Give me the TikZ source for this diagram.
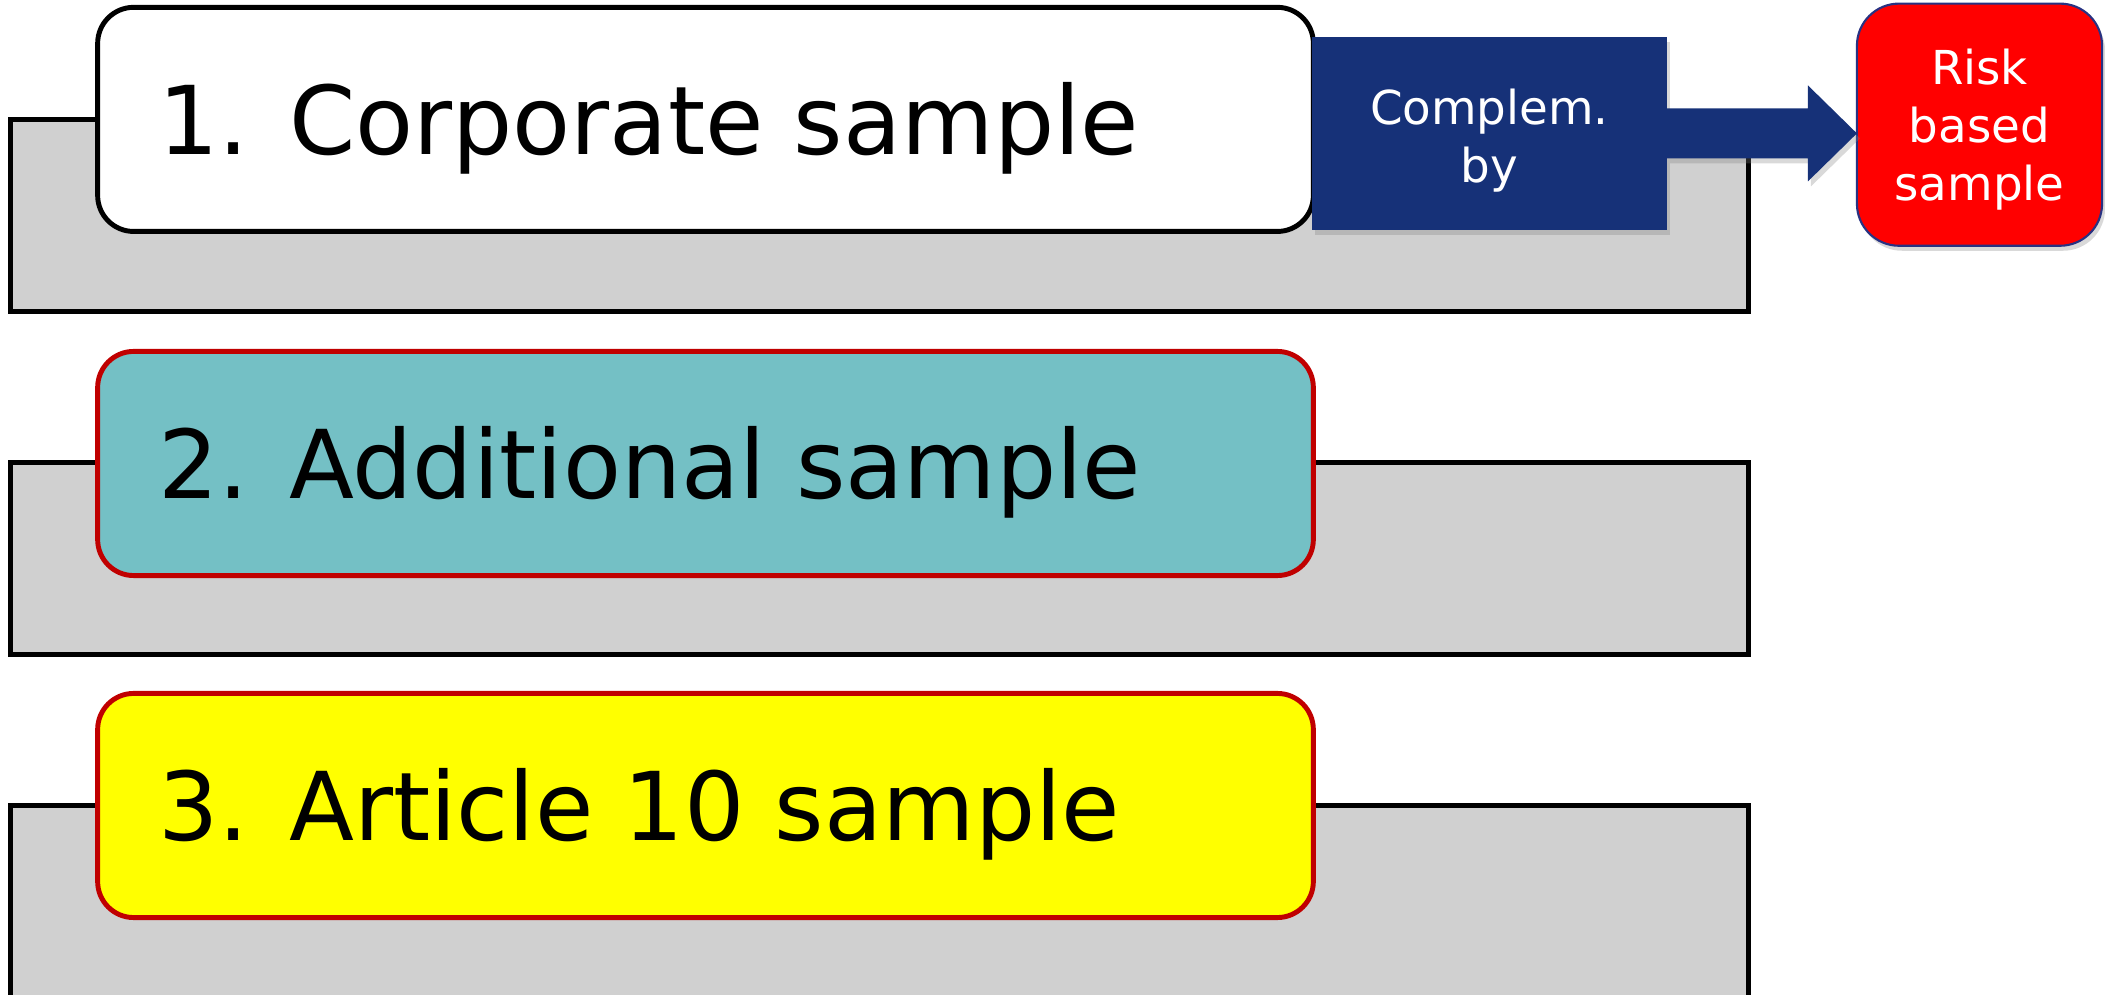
\documentclass[tikz,border=0pt]{standalone}
\usepackage{fontspec}
\setmainfont{DejaVu Sans}
\usetikzlibrary{calc,shadows}
\definecolor{graybar}{RGB}{208,208,208}
\definecolor{tealbox}{RGB}{116,192,197}
\definecolor{navy}{RGB}{22,49,120}
\definecolor{darkred}{RGB}{192,0,0}
\definecolor{redborder}{RGB}{40,50,130}
\definecolor{yellowbox}{RGB}{255,255,0}
\definecolor{redbox}{RGB}{255,0,0}
\begin{document}
\begin{tikzpicture}[x=0.01cm,y=-0.01cm,
  bar/.style={draw=black, fill=graybar, line width=1.4pt, minimum width=17.37cm, minimum height=1.92cm, inner sep=0pt, outer sep=0pt},
  sbox/.style={rounded corners=0.36cm, line width=1.4pt, minimum width=12.15cm, minimum height=2.24cm, inner sep=0pt, outer sep=0pt},
  big/.style={font=\fontsize{27}{32}\selectfont, inner sep=0pt, anchor=base west},
  small/.style={font=\fontsize{13.3}{16.4}\selectfont, text=white, align=center, inner sep=0pt},
  shade/.style={drop shadow={shadow xshift=0.03cm, shadow yshift=-0.05cm, opacity=0.3}},
]
\useasboundingbox (0,0) rectangle (2105,995);
% row 1
\node[bar] (g1) at (879.4,215.5) {};
\node[sbox, draw=black, fill=white] (b1) at (705.5,119.4) {};
\node[big] (t1) at ($(b1.north west)+(60,147)$) {1. Corporate sample};
% row 2
\node[bar] (g2) at (879.4,558.5) {};
\node[sbox, draw=darkred, fill=tealbox] (b2) at (705.5,463.5) {};
\node[big] (t2) at ($(b2.north west)+(60,147)$) {2. Additional sample};
% row 3
\node[bar] (g3) at (879.4,901.5) {};
\node[sbox, draw=darkred, fill=yellowbox] (b3) at (705.5,805.5) {};
\node[big] (t3) at ($(b3.north west)+(60,147)$) {3. Article 10 sample};
% complement box and risk box
\node[fill=navy, minimum width=3.55cm, minimum height=1.93cm, outer sep=0pt, shade] (blue) at (1489.5,133.4) {};
\node[small] (bluet) at ($(blue.center)+(0,7)$) {Complem.\\by};
\node[fill=redbox, draw=redborder, line width=0.6pt, rounded corners=0.42cm, minimum width=2.45cm, minimum height=2.42cm, outer sep=0pt, shade] (risk) at (1979.5,124.7) {};
\node[small] (riskt) at ($(risk.center)+(0,5)$) {Risk\\based\\sample};
\coordinate (tip) at (risk.west |- blue.east);
\fill[navy, shade] ($(blue.east)+(0,-25)$) -- ($(tip)+(-49,-25)$) -- ($(tip)+(-49,-48)$) -- (tip) -- ($(tip)+(-49,48)$) -- ($(tip)+(-49,25)$) -- ($(blue.east)+(0,25)$) -- cycle;
\end{tikzpicture}
\end{document}
